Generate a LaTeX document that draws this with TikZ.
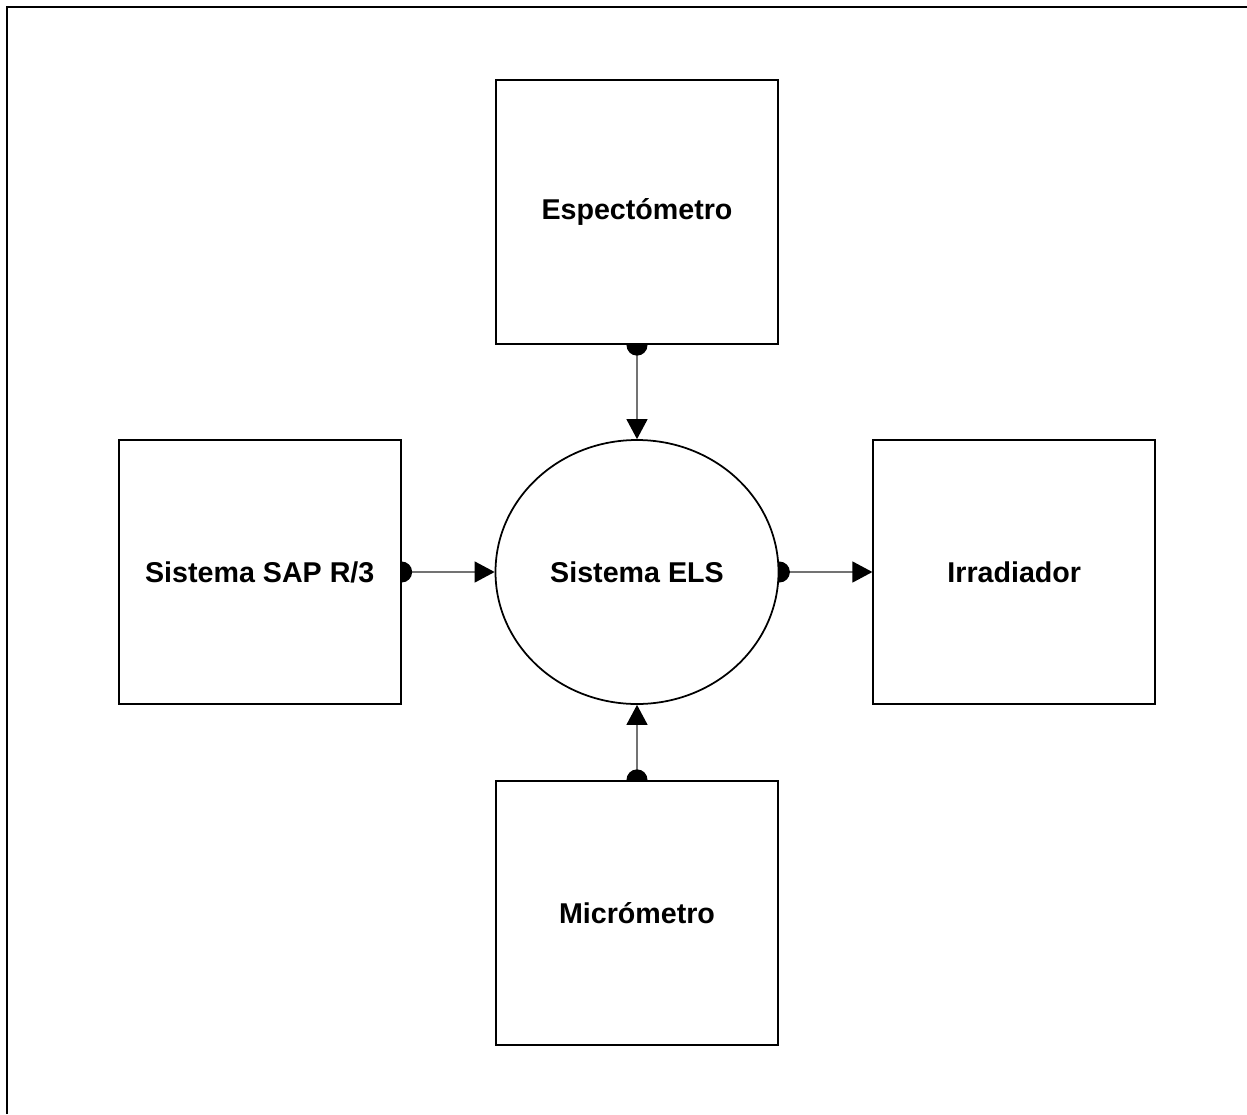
\documentclass[tikz,border=0pt]{standalone}
\usepackage{fontspec}
\setmainfont{Liberation Sans}
\usetikzlibrary{arrows.meta,positioning,shapes.geometric,backgrounds}
\tikzset{
  unit/.style={draw=black, line width=1pt, fill=white,
    minimum width=5.64cm, minimum height=5.28cm, inner sep=0pt,
    font=\fontsize{16.3}{19}\selectfont\bfseries},
  core/.style={unit, ellipse, minimum width=5.66cm},
  link/.style={{Circle[length=4.2mm, color=black]}-{Triangle[length=4mm, width=4.2mm, color=black]},
    draw=black!55, line width=0.8pt, shorten <=-2.1mm},
  frame/.style={line width=1.7pt}
}
\begin{document}
\begin{tikzpicture}[node distance=1.88cm and 1.86cm]
  \useasboundingbox (0,0) rectangle (24.94,-22.28);
  \draw[frame] (0.14,-22.28) -- (0.14,-0.14) -- (24.94,-0.14);

  \node[core] (els) at (12.74,-11.44) {Sistema ELS};
  \node[unit, above=of els] (espec) {Espectómetro};
  \node[unit, below=1.5cm of els] (micro) {Micrómetro};
  \node[unit, left=of els] (sap) {Sistema SAP R/3};
  \node[unit, right=of els] (irr) {Irradiador};

  \begin{scope}[on background layer]
    \draw[link] (espec) -- (els);
    \draw[link] (micro) -- (els);
    \draw[link] (sap) -- (els);
    \draw[link] (els) -- (irr);
  \end{scope}
\end{tikzpicture}
\end{document}
